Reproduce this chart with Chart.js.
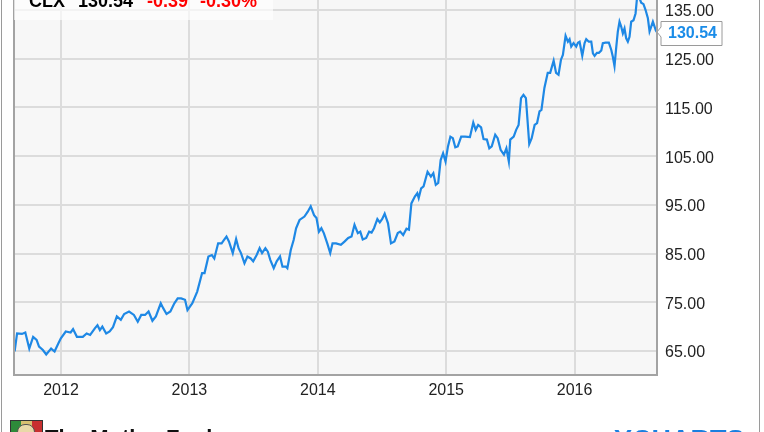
<!DOCTYPE html>
<html><head><meta charset="utf-8">
<script src="https://cdn.jsdelivr.net/npm/chart.js@4.4.1/dist/chart.umd.min.js"></script>
<style>
html,body{margin:0;padding:0;background:#fff;width:764px;height:432px;overflow:hidden;font-family:"Liberation Sans",Arial,sans-serif;}
#wrap{position:relative;width:764px;height:432px;overflow:hidden;}
#c{position:absolute;left:0;top:0;}
.hdr{position:absolute;left:14px;top:0;width:259px;height:20px;background:rgba(255,255,255,0.65);}
.ht{position:absolute;top:-8px;font-weight:bold;font-size:18px;line-height:18px;white-space:nowrap;}
#lbl{position:absolute;left:656px;top:20px;}
#lbltxt{position:absolute;left:668px;top:24px;font-weight:bold;font-size:16px;line-height:18px;color:#1a8ce8;}
.frame{position:absolute;top:0;width:1px;height:432px;background:#9a9a9a;}
#fool{position:absolute;left:45px;top:427px;font-weight:bold;font-size:22px;line-height:22px;color:#111;white-space:nowrap;}
#logo{position:absolute;left:10px;top:420px;width:31px;height:20px;border:1px solid #333;overflow:hidden;}
#yc{position:absolute;left:614px;top:427px;font-weight:bold;font-size:27px;line-height:27px;color:#1a7fe0;white-space:nowrap;letter-spacing:0px;}
</style>
</head><body>
<div id="wrap">
<canvas id="c" width="764" height="432"></canvas>
<div class="frame" style="left:1px"></div>
<div class="frame" style="left:759px"></div>
<div class="hdr"></div>
<div class="ht" id="tk" style="left:29px;color:#000"></div>
<div class="ht" id="pr" style="left:78px;color:#000"></div>
<div class="ht" id="ch" style="left:147px;color:#f00"></div>
<div class="ht" id="cp" style="left:200px;color:#f00"></div>
<svg id="lbl" width="70" height="28"><polygon points="5,1.5 66,1.5 66,25.5 5,25.5 5,17 1,12 5,7" fill="#fff" stroke="#9a9a9a" stroke-width="1"/></svg>
<div id="lbltxt"></div>
<div id="logo"><div style="position:absolute;left:0;top:0;width:10px;height:20px;background:#2e8b3a"></div><div style="position:absolute;left:10px;top:0;width:11px;height:20px;background:#d8c070"></div><div style="position:absolute;left:21px;top:0;width:10px;height:20px;background:#c83030"></div><div style="position:absolute;left:6px;top:3px;width:16px;height:16px;border-radius:8px;background:#e9d9a8;border:1px solid #555"></div></div>
<div id="fool">The Motley Fool</div>
<div id="yc">YCHARTS</div>
</div>
<script>
const ticker = 'CLX';
const lastPrice = '130.54';
const change = '-0.39';
const changePct = '-0.30%';
const xTicks = [2012, 2013, 2014, 2015, 2016];
const yTicks = [65, 75, 85, 95, 105, 115, 125, 135];
const years = [
2011.639,2011.658,2011.696,2011.722,2011.753,2011.783,2011.810,2011.829,2011.859,2011.885,
2011.923,2011.950,2011.980,2011.999,2012.037,2012.075,2012.094,2012.124,2012.170,2012.200,
2012.227,2012.265,2012.284,2012.303,2012.322,2012.352,2012.379,2012.405,2012.435,2012.466,
2012.492,2012.530,2012.568,2012.598,2012.625,2012.655,2012.682,2012.712,2012.739,2012.777,
2012.796,2012.822,2012.852,2012.883,2012.909,2012.936,2012.966,2012.985,2013.023,2013.061,
2013.099,2013.118,2013.148,2013.175,2013.194,2013.224,2013.251,2013.270,2013.289,2013.308,
2013.338,2013.364,2013.383,2013.402,2013.429,2013.452,2013.478,2013.497,2013.524,2013.547,
2013.566,2013.592,2013.611,2013.630,2013.657,2013.680,2013.706,2013.725,2013.752,2013.763,
2013.790,2013.812,2013.831,2013.858,2013.896,2013.922,2013.945,2013.971,2013.990,2014.009,
2014.028,2014.047,2014.074,2014.097,2014.115,2014.142,2014.180,2014.210,2014.237,2014.263,
2014.286,2014.312,2014.331,2014.350,2014.377,2014.400,2014.419,2014.438,2014.464,2014.483,
2014.502,2014.521,2014.547,2014.570,2014.597,2014.623,2014.642,2014.665,2014.691,2014.710,
2014.729,2014.756,2014.775,2014.786,2014.805,2014.824,2014.855,2014.881,2014.900,2014.919,
2014.938,2014.957,2014.976,2014.995,2015.014,2015.033,2015.052,2015.071,2015.090,2015.117,
2015.147,2015.185,2015.211,2015.230,2015.249,2015.272,2015.291,2015.317,2015.336,2015.355,
2015.382,2015.401,2015.424,2015.450,2015.469,2015.488,2015.499,2015.526,2015.545,2015.564,
2015.583,2015.602,2015.621,2015.647,2015.666,2015.689,2015.708,2015.727,2015.742,2015.765,
2015.791,2015.810,2015.837,2015.856,2015.875,2015.894,2015.909,2015.930,2015.948,2015.961,
2015.974,2015.992,2016.013,2016.026,2016.039,2016.060,2016.078,2016.091,2016.111,2016.130,
2016.143,2016.156,2016.174,2016.189,2016.208,2016.220,2016.241,2016.267,2016.286,2016.298,
2016.311,2016.325,2016.337,2016.350,2016.363,2016.376,2016.389,2016.402,2016.415,2016.428,
2016.441,2016.459,2016.475,2016.485,2016.500,2016.519,2016.537,2016.553,2016.571,2016.584,
2016.597,2016.610,2016.623,2016.633,2016.640
];
const prices = [
64.9,68.6,68.5,68.8,65.5,67.9,67.3,65.9,65.2,64.3,
65.5,64.9,66.6,67.6,69.0,68.8,69.5,67.9,67.9,68.6,
68.3,69.7,70.3,69.3,70.0,68.6,69.0,69.9,72.1,71.4,
72.6,73.1,72.4,71.0,72.4,72.4,73.1,71.2,72.1,74.8,
73.8,72.6,73.1,74.8,75.8,75.8,75.5,73.4,74.8,77.2,
81.0,81.0,84.4,84.7,84.0,87.1,87.1,87.8,88.5,87.5,
85.1,88.0,86.1,85.1,83.0,84.4,84.0,83.4,84.7,86.1,
85.1,86.1,85.4,83.7,82.0,83.4,84.4,82.3,82.3,82.0,
85.8,87.8,90.2,91.9,92.6,93.6,94.7,92.9,92.3,89.5,
90.2,89.2,87.1,85.1,87.1,87.1,86.8,87.5,88.2,88.5,
90.9,89.2,89.5,87.9,88.2,89.5,89.3,90.2,92.1,91.4,
92.1,93.2,91.2,87.1,87.5,89.2,89.5,88.8,90.1,89.9,
95.3,96.7,97.4,96.4,98.4,98.8,101.8,100.8,101.5,99.1,
99.5,104.2,105.6,103.9,107.0,109.0,108.7,106.8,107.0,109.0,
109.0,108.9,111.9,110.4,111.4,110.9,108.5,108.4,106.6,107.0,
109.4,108.7,106.3,105.3,106.6,103.9,108.4,109.0,110.4,111.4,
116.9,117.6,116.9,107.5,108.7,111.4,111.8,114.2,114.5,119.0,
122.1,122.1,124.6,122.1,121.7,124.8,125.8,129.7,128.5,129.0,
127.5,128.2,127.5,128.3,128.5,125.6,128.2,129.0,128.5,128.5,
126.1,125.6,126.2,126.2,126.7,128.2,128.3,128.3,126.8,125.4,
123.5,127.5,130.6,132.6,131.6,130.2,131.2,129.2,128.5,129.5,
132.6,132.9,134.3,137.1,137.8,136.5,136.2,135.0,133.3,130.6,
131.6,132.6,131.6,130.8,130.54
];

document.getElementById('tk').textContent = ticker;
document.getElementById('pr').textContent = lastPrice;
document.getElementById('ch').textContent = change;
document.getElementById('cp').textContent = changePct;
document.getElementById('lbltxt').textContent = lastPrice;

const FONT = '"Liberation Sans", Arial, sans-serif';
const framePlugin = {
  id: 'frame',
  beforeDraw(chart) {
    const {ctx, chartArea: a} = chart;
    ctx.save();
    ctx.fillStyle = '#f7f7f7';
    ctx.fillRect(a.left, a.top, a.right - a.left, a.bottom - a.top);
    ctx.restore();
  },
  afterDraw(chart) {
    const {ctx, chartArea: a} = chart;
    ctx.save();
    ctx.strokeStyle = '#a3a3a3';
    ctx.lineWidth = 2;
    ctx.beginPath();
    ctx.moveTo(a.left, a.top - 5);
    ctx.lineTo(a.left, a.bottom);
    ctx.lineTo(a.right, a.bottom);
    ctx.lineTo(a.right, a.top - 5);
    ctx.stroke();
    ctx.restore();
  }
};

new Chart(document.getElementById('c'), {
  type: 'line',
  data: {
    datasets: [{
      data: years.map((x, i) => ({x: x, y: prices[i]})),
      borderColor: '#1e88e5',
      borderWidth: 2.2,
      pointRadius: 0,
      tension: 0,
      fill: false
    }]
  },
  options: {
    responsive: false,
    animation: false,
    devicePixelRatio: 1,
    layout: {padding: {left: 14, right: 0, top: 0, bottom: 0}},
    plugins: {legend: {display: false}, tooltip: {enabled: false}},
    scales: {
      x: {
        type: 'linear', position: 'bottom', min: 2011.634, max: 2016.642,
        afterBuildTicks: s => { s.ticks = xTicks.map(v => ({value: v})); },
        afterFit: s => { s.height = 57; s.paddingLeft = 0; s.paddingRight = 0; },
        ticks: {callback: v => String(v), font: {size: 16, family: FONT}, color: '#222', padding: 6, maxRotation: 0, autoSkip: false},
        grid: {color: '#dcdcdc', lineWidth: 2, drawTicks: false},
        border: {display: false}
      },
      y: {
        type: 'linear', position: 'right', min: 60.07, max: 137.06,
        afterBuildTicks: s => { s.ticks = yTicks.map(v => ({value: v})); },
        afterFit: s => { s.width = 107; s.paddingTop = 0; s.paddingBottom = 0; },
        ticks: {callback: v => Number(v).toFixed(2), font: {size: 16, family: FONT}, color: '#222', padding: 8, labelOffset: 2, autoSkip: false},
        grid: {color: '#dcdcdc', lineWidth: 2, drawTicks: false},
        border: {display: false}
      }
    }
  },
  plugins: [framePlugin]
});
</script>
</body></html>
